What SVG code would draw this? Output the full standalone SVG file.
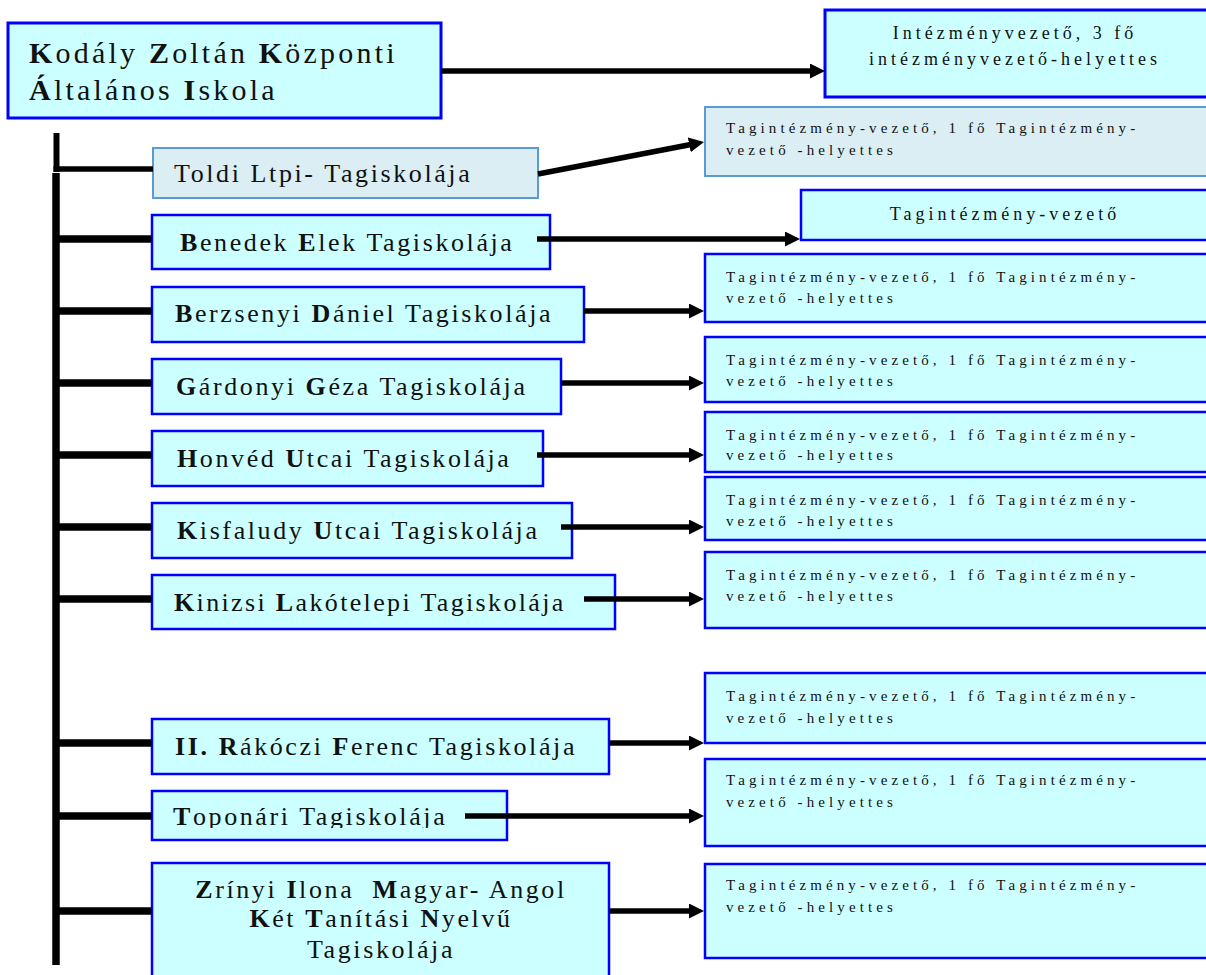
<svg xmlns="http://www.w3.org/2000/svg" width="1206" height="975" viewBox="0 0 1206 975">
<style>
.box{fill:#CCFFFF;stroke:#0000FF;stroke-width:2.5}
.gbox{fill:#DAEEF3;stroke:#5B9BD5;stroke-width:2}
.t{font-family:"Liberation Serif","Times New Roman",serif;fill:#111;font-size:26px;letter-spacing:2.6px}
.title{font-size:30px;letter-spacing:3.2px}
.sm{font-size:15px;letter-spacing:4.1px}
.md{font-size:18px;letter-spacing:4px}
.b{font-weight:bold}
.ln{stroke:#000;fill:none}
.br{stroke-width:7.5}
.ar{stroke-width:5.5;marker-end:url(#ah)}
</style>
<defs>
<marker id="ah" markerUnits="userSpaceOnUse" markerWidth="16" markerHeight="16" refX="3" refY="7.5" orient="auto">
<path d="M0,0 L15,7.5 L0,15 Z" fill="#000"/>
</marker>
<clipPath id="topclip"><rect x="152" y="790" width="356" height="38"/></clipPath>
</defs>

<g id="kozpont">
<rect class="box" x="8" y="23" width="433" height="95" style="stroke-width:3"/>
<text class="t title" x="29" y="63"><tspan class="b">K</tspan>odály <tspan class="b">Z</tspan>oltán <tspan class="b">K</tspan>özponti</text>
<text class="t title" x="29" y="100"><tspan class="b">Á</tspan>ltalános <tspan class="b">I</tspan>skola</text>
</g>
<g id="vezetes">
<rect class="box" x="825" y="10" width="384" height="87" style="stroke-width:3"/>
<text class="t md" x="1015" y="39" text-anchor="middle">Intézményvezető, 3 fő</text>
<text class="t md" x="1015" y="65" text-anchor="middle">intézményvezető-helyettes</text>
</g>

<g id="toldi">
<rect class="gbox" x="153" y="148" width="385" height="50"/>
<text class="t" x="174" y="182">Toldi Ltpi- Tagiskolája</text>
</g>
<g id="toldi-vez">
<rect class="gbox" x="705" y="107" width="504" height="69"/>
<text class="t sm" x="726" y="133">Tagintézmény-vezető, 1 fő Tagintézmény-</text>
<text class="t sm" x="726" y="155">vezető -helyettes</text>
</g>

<g id="benedek">
<rect class="box" x="152" y="215" width="398" height="54"/>
<text class="t" x="180" y="251"><tspan class="b">B</tspan>enedek <tspan class="b">E</tspan>lek Tagiskolája</text>
</g>
<g id="benedek-vez">
<rect class="box" x="801" y="190" width="408" height="50"/>
<text class="t md" x="1005" y="220" text-anchor="middle">Tagintézmény-vezető</text>
</g>

<g id="berzsenyi">
<rect class="box" x="152" y="287" width="432" height="55"/>
<text class="t" x="175" y="322"><tspan class="b">B</tspan>erzsenyi <tspan class="b">D</tspan>ániel Tagiskolája</text>
</g>
<g id="berzsenyi-vez">
<rect class="box" x="705" y="254" width="504" height="68"/>
<text class="t sm" x="726" y="282">Tagintézmény-vezető, 1 fő Tagintézmény-</text>
<text class="t sm" x="726" y="303">vezető -helyettes</text>
</g>

<g id="gardonyi">
<rect class="box" x="152" y="359" width="409" height="55"/>
<text class="t" x="176" y="395"><tspan class="b">G</tspan>árdonyi <tspan class="b">G</tspan>éza Tagiskolája</text>
</g>
<g id="gardonyi-vez">
<rect class="box" x="705" y="337" width="504" height="65"/>
<text class="t sm" x="726" y="365">Tagintézmény-vezető, 1 fő Tagintézmény-</text>
<text class="t sm" x="726" y="386">vezető -helyettes</text>
</g>

<g id="honved">
<rect class="box" x="152" y="431" width="391" height="55"/>
<text class="t" x="177" y="467"><tspan class="b">H</tspan>onvéd <tspan class="b">U</tspan>tcai Tagiskolája</text>
</g>
<g id="honved-vez">
<rect class="box" x="705" y="412" width="504" height="60"/>
<text class="t sm" x="726" y="440">Tagintézmény-vezető, 1 fő Tagintézmény-</text>
<text class="t sm" x="726" y="460">vezető -helyettes</text>
</g>

<g id="kisfaludy">
<rect class="box" x="152" y="503" width="420" height="55"/>
<text class="t" x="177" y="539"><tspan class="b">K</tspan>isfaludy <tspan class="b">U</tspan>tcai Tagiskolája</text>
</g>
<g id="kisfaludy-vez">
<rect class="box" x="705" y="477" width="504" height="63"/>
<text class="t sm" x="726" y="505">Tagintézmény-vezető, 1 fő Tagintézmény-</text>
<text class="t sm" x="726" y="526">vezető -helyettes</text>
</g>

<g id="kinizsi">
<rect class="box" x="152" y="575" width="463" height="54"/>
<text class="t" x="174" y="611" style="letter-spacing:2.35px"><tspan class="b">K</tspan>inizsi <tspan class="b">L</tspan>akótelepi Tagiskolája</text>
</g>
<g id="kinizsi-vez">
<rect class="box" x="705" y="552" width="504" height="76"/>
<text class="t sm" x="726" y="580">Tagintézmény-vezető, 1 fő Tagintézmény-</text>
<text class="t sm" x="726" y="601">vezető -helyettes</text>
</g>

<g id="rakoczi">
<rect class="box" x="152" y="719" width="457" height="55"/>
<text class="t" x="175" y="755"><tspan class="b">II. R</tspan>ákóczi <tspan class="b">F</tspan>erenc Tagiskolája</text>
</g>
<g id="rakoczi-vez">
<rect class="box" x="705" y="673" width="504" height="70"/>
<text class="t sm" x="726" y="701">Tagintézmény-vezető, 1 fő Tagintézmény-</text>
<text class="t sm" x="726" y="723">vezető -helyettes</text>
</g>

<g id="toponari">
<rect class="box" x="152" y="791" width="355" height="49"/>
<text class="t" x="173" y="825" clip-path="url(#topclip)"><tspan class="b">T</tspan>oponári Tagiskolája</text>
</g>
<g id="toponari-vez">
<rect class="box" x="705" y="759" width="504" height="87"/>
<text class="t sm" x="726" y="785">Tagintézmény-vezető, 1 fő Tagintézmény-</text>
<text class="t sm" x="726" y="807">vezető -helyettes</text>
</g>

<g id="zrinyi">
<rect class="box" x="152" y="863" width="457" height="120"/>
<text class="t" x="381" y="898" text-anchor="middle" xml:space="preserve"><tspan class="b">Z</tspan>rínyi <tspan class="b">I</tspan>lona  <tspan class="b">M</tspan>agyar- Angol</text>
<text class="t" x="381" y="927" text-anchor="middle"><tspan class="b">K</tspan>ét <tspan class="b">T</tspan>anítási <tspan class="b">N</tspan>yelvű</text>
<text class="t" x="381" y="958" text-anchor="middle">Tagiskolája</text>
</g>
<g id="zrinyi-vez">
<rect class="box" x="705" y="864" width="504" height="94"/>
<text class="t sm" x="726" y="890">Tagintézmény-vezető, 1 fő Tagintézmény-</text>
<text class="t sm" x="726" y="912">vezető -helyettes</text>
</g>

<g id="connectors">
<line class="ln ar" x1="441" y1="71" x2="813" y2="71"/>
<line class="ln" x1="56.5" y1="133" x2="56.5" y2="172" style="stroke-width:6"/>
<line class="ln" x1="53.5" y1="169" x2="153" y2="169" style="stroke-width:5.5"/>
<line class="ln" x1="56" y1="173" x2="56" y2="965" style="stroke-width:7.5"/>
<line class="ln ar" x1="538" y1="174" x2="692.2" y2="144.3"/>
<line class="ln br" x1="56" y1="239" x2="152" y2="239"/>
<line class="ln ar" x1="537" y1="239" x2="788" y2="239"/>
<line class="ln br" x1="56" y1="311" x2="152" y2="311"/>
<line class="ln ar" x1="584" y1="311" x2="692" y2="311"/>
<line class="ln br" x1="56" y1="383" x2="152" y2="383"/>
<line class="ln ar" x1="561" y1="383" x2="692" y2="383"/>
<line class="ln br" x1="56" y1="455" x2="152" y2="455"/>
<line class="ln ar" x1="537" y1="455" x2="692" y2="455"/>
<line class="ln br" x1="56" y1="527" x2="152" y2="527"/>
<line class="ln ar" x1="561" y1="527" x2="692" y2="527"/>
<line class="ln br" x1="56" y1="599" x2="152" y2="599"/>
<line class="ln ar" x1="584" y1="599" x2="692" y2="599"/>
<line class="ln br" x1="56" y1="743" x2="152" y2="743"/>
<line class="ln ar" x1="609" y1="743" x2="692" y2="743"/>
<line class="ln br" x1="56" y1="816" x2="152" y2="816"/>
<line class="ln ar" x1="465" y1="816" x2="692" y2="816"/>
<line class="ln br" x1="56" y1="911" x2="152" y2="911"/>
<line class="ln ar" x1="609" y1="911" x2="692" y2="911"/>
</g>
</svg>
